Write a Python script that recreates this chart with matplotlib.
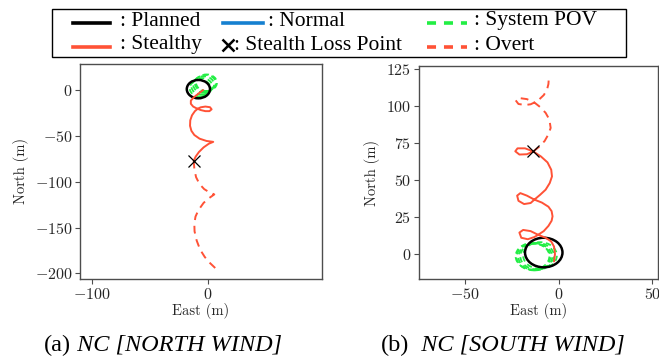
import matplotlib
matplotlib.use("Agg")
import matplotlib.pyplot as plt
from matplotlib.lines import Line2D
from matplotlib.patches import Circle, Rectangle

# ---------------- data ----------------
planned_center = (-8, 1)
planned_radius = 10

# (a) North wind
a_pov_cx = [-6.5, -5, -3.5, -2, -1]
a_pov_cy = [2, 4, 6, 7.5, 8]
a_pov_r = 9
a_stealthy_e = [-4, -8, -12, -14.5, -14.5, -12.5, -9.5, -6, -2, 1.5, 3.4, 2, -2, -6,
                -8.5, -11, -13.5, -15, -15.2, -14, -11.5, -7, -1, 4.8, 1, -3.5, -7.5,
                -10.3, -12]
a_stealthy_n = [0, -4, -8, -11.5, -15, -18, -20, -21.8, -23, -23, -21, -18.7, -18,
                -18.8, -20.3, -23, -27.5, -33, -39, -44.5, -49, -53, -55.5, -56.5, -58.5,
                -62.5, -67.5, -72.5, -77]
a_overt_e = [-12, -11.5, -10, -7, -3, 1.5, 5.7, 1, -3.5, -8, -10.5, -11.5, -11.3, -9.5,
             -6.5, -2.5, 1.5, 6.9]
a_overt_n = [-77, -86, -95, -102.5, -108, -111.5, -113.8, -118, -123, -131, -138, -146,
             -154, -164, -174, -182, -188, -194.5]
a_loss = (-12, -77)

# (b) South wind
b_pov_cx = [-10, -11.5, -12.5, -13.5, -14]
b_pov_cy = [-1, -1.5, -2, -2, -1.5]
b_pov_r = 9
b_stealthy_e = [-2.5, -2, -2.5, -4, -7, -11, -15, -19, -21, -20, -16.5, -13, -11, -8,
                -5.5, -3.8, -3.3, -3.8, -5.5, -9, -13, -17, -20.5, -22.2, -21.5, -18.5,
                -15, -13, -10, -7, -4.8, -3.6, -4, -6, -9.5, -13.6, -18, -22, -23.2, -21,
                -17, -13.6]
b_stealthy_n = [-5, 0, 5, 8.5, 11, 13, 15.5, 16.3, 14.5, 11, 10, 11.5, 13, 15.5,
                19, 22.5, 25.5, 29, 32, 34.8, 36.8, 39.5, 41.2, 39.5, 36, 33.8,
                34.5, 36.8, 40, 43.5, 48, 52.5, 57, 62, 66, 69.4, 71.5, 71.5, 69.5, 67.3,
                67.5, 69.4]
b_overt_e = [-13.6, -10.5, -7.5, -5.5, -4.3, -5, -7, -10, -13, -17, -21, -23, -21.5, -18,
             -15, -13, -10.5, -8, -6.3, -5.5, -5.3]
b_overt_n = [69.4, 72.5, 76.5, 81, 85.3, 91, 95.5, 99.5, 102.5, 104.8, 105.5, 104, 101.5,
             100.8, 101.3, 102.5, 104.5, 107.5, 111, 115, 119]
b_loss = (-13.6, 69.4)

legend_labels = [': Planned', ': Normal', ': System POV',
                 ': Stealthy', ': Stealth Loss Point', ': Overt']
captions = [('(a)', ' NC [NORTH WIND]'), ('(b)', '  NC [SOUTH WIND]')]

# ---------------- style ----------------
RED = '#FF5236'
GREEN = '#22EE44'
BLUE = '#1580D0'
SPINE = '0.3'

plt.rcParams['font.family'] = 'serif'
plt.rcParams['font.serif'] = ['cmr10']
plt.rcParams['mathtext.fontset'] = 'cm'
plt.rcParams['axes.formatter.use_mathtext'] = True
plt.rcParams['axes.unicode_minus'] = True

W, H = 659, 362
fig = plt.figure(figsize=(W / 100, H / 100), dpi=100)


def fx(px):
    return px / W


def fy(py):
    return 1 - py / H


def make_axes(x0, y0, x1, y1):
    return fig.add_axes([fx(x0), fy(y1), fx(x1) - fx(x0), fy(y0) - fy(y1)])


axA = make_axes(80, 64, 322, 279)
axB = make_axes(419, 66, 658, 279)


def draw(ax, pov_cx, pov_cy, pov_r, se, sn, oe, on, loss):
    for cx, cy in zip(pov_cx, pov_cy):
        ax.add_patch(Circle((cx, cy), pov_r, fill=False, ec=GREEN, lw=1.3,
                            ls=(0, (3, 2))))
    ax.plot(se, sn, color=RED, lw=1.4, solid_capstyle='round', solid_joinstyle='round')
    ax.plot(oe, on, color=RED, lw=1.4, ls=(0, (4, 3)))
    ax.add_patch(Circle(planned_center, planned_radius, fill=False, ec='black', lw=1.8))
    ax.plot([loss[0]], [loss[1]], marker='x', color='black', ms=8, mew=0.9, ls='none')
    for s in ax.spines.values():
        s.set_color(SPINE)
        s.set_linewidth(1.0)
    ax.tick_params(colors=SPINE, labelcolor='0.15', labelsize=11.5, length=3.5, width=0.8,
                   pad=2)
    ax.set_xlabel('East (m)', fontsize=10.5, color='0.15', labelpad=1)
    ax.set_ylabel('North (m)', fontsize=10.5, color='0.15', labelpad=4)


draw(axA, a_pov_cx, a_pov_cy, a_pov_r, a_stealthy_e, a_stealthy_n,
     a_overt_e, a_overt_n, a_loss)
axA.set_xlim(-110, 98.5)
axA.set_ylim(-206, 28.4)
axA.set_xticks([-100, 0])
axA.set_yticks([0, -50, -100, -150, -200])

draw(axB, b_pov_cx, b_pov_cy, b_pov_r, b_stealthy_e, b_stealthy_n,
     b_overt_e, b_overt_n, b_loss)
axB.set_xlim(-74.6, 53)
axB.set_ylim(-16.9, 127.2)
axB.set_xticks([-50, 0, 50])
axB.set_yticks([0, 25, 50, 75, 100, 125])

# ---------------- legend (manual) ----------------
LEG_FONT = dict(family='Liberation Serif', size=15.5)
fig.add_artist(Rectangle((fx(52), fy(57)), fx(626) - fx(52), fy(9) - fy(57),
                         transform=fig.transFigure, fill=False, ec='black', lw=1.0))
row_y = [22.5, 46.5]
text_y = [21, 45]


def hline(x0, x1, y, color, ls='-'):
    fig.add_artist(Line2D([fx(x0), fx(x1)], [fy(y), fy(y)], transform=fig.transFigure,
                          color=color, lw=2.6, ls=ls))


hline(73, 110, row_y[0], 'black')
fig.text(fx(120), fy(text_y[0]), legend_labels[0], va='center', **LEG_FONT)
hline(223, 263, row_y[0], BLUE)
fig.text(fx(268), fy(text_y[0]), legend_labels[1], va='center', **LEG_FONT)
hline(427, 467, row_y[0], GREEN, ls=(0, (2.5, 2.2)))
fig.text(fx(474), fy(text_y[0]), legend_labels[2], va='center', **LEG_FONT)

hline(73, 110, row_y[1], RED)
fig.text(fx(120), fy(text_y[1]), legend_labels[3], va='center', **LEG_FONT)
fig.add_artist(Line2D([fx(228)], [fy(row_y[1] - 1.5)], transform=fig.transFigure,
                      marker='x', color='black', ms=8, mew=1.8, ls='none'))
fig.text(fx(234), fy(text_y[1]), legend_labels[4], va='center', **LEG_FONT)
hline(427, 467, row_y[1], RED, ls=(0, (2.5, 2.2)))
fig.text(fx(474), fy(text_y[1]), legend_labels[5], va='center', **LEG_FONT)

# ---------------- captions ----------------
CAP = 17.5
for (tag, body), x in zip(captions, [44, 381]):
    t1 = fig.text(fx(x), fy(345), tag, va='center', family='Liberation Serif', size=CAP)
    plt.annotate(body, xy=(1, 0), xycoords=t1, va='bottom', ha='left',
                 family='Liberation Serif', style='italic', size=CAP,
                 annotation_clip=False)

fig.savefig('out.png', dpi=100)
